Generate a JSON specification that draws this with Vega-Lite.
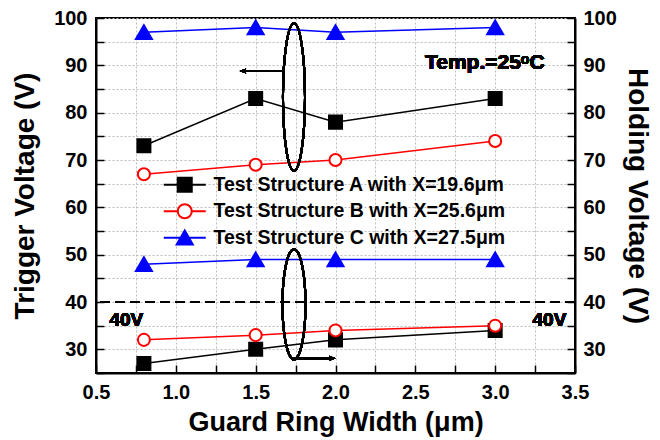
{
  "$schema": "https://vega.github.io/schema/vega-lite/v6.json",
  "width": 479,
  "height": 355,
  "autosize": {"type": "none"},
  "padding": {"left": 96, "top": 18, "right": 85, "bottom": 67},
  "background": "white",
  "config": {
    "view": {"stroke": "black", "strokeWidth": 2},
    "font": "Liberation Sans",
    "axis": {
      "labelFont": "Liberation Sans", "labelFontWeight": "bold", "labelFontSize": 20, "labelColor": "black",
      "titleFont": "Liberation Sans", "titleFontWeight": "bold", "titleFontSize": 28, "titleColor": "black",
      "domainColor": "black", "domainWidth": 2, "tickColor": "black", "tickWidth": 1.5, "tickSize": -8,
      "gridColor": "#bdbdbd", "gridDash": [2, 2], "gridWidth": 1
    }
  },
  "datasets": {
    "pts": [
      {"w": 0.8, "v": 73, "s": "Test Structure A with X=19.6μm", "g": "T"},
      {"w": 1.5, "v": 83, "s": "Test Structure A with X=19.6μm", "g": "T"},
      {"w": 2.0, "v": 78, "s": "Test Structure A with X=19.6μm", "g": "T"},
      {"w": 3.0, "v": 83, "s": "Test Structure A with X=19.6μm", "g": "T"},
      {"w": 0.8, "v": 67, "s": "Test Structure B with X=25.6μm", "g": "T"},
      {"w": 1.5, "v": 69, "s": "Test Structure B with X=25.6μm", "g": "T"},
      {"w": 2.0, "v": 70, "s": "Test Structure B with X=25.6μm", "g": "T"},
      {"w": 3.0, "v": 74, "s": "Test Structure B with X=25.6μm", "g": "T"},
      {"w": 0.8, "v": 97, "s": "Test Structure C with X=27.5μm", "g": "T"},
      {"w": 1.5, "v": 98, "s": "Test Structure C with X=27.5μm", "g": "T"},
      {"w": 2.0, "v": 97, "s": "Test Structure C with X=27.5μm", "g": "T"},
      {"w": 3.0, "v": 98, "s": "Test Structure C with X=27.5μm", "g": "T"},
      {"w": 0.8, "v": 27, "s": "Test Structure A with X=19.6μm", "g": "H"},
      {"w": 1.5, "v": 30, "s": "Test Structure A with X=19.6μm", "g": "H"},
      {"w": 2.0, "v": 32, "s": "Test Structure A with X=19.6μm", "g": "H"},
      {"w": 3.0, "v": 34, "s": "Test Structure A with X=19.6μm", "g": "H"},
      {"w": 0.8, "v": 32, "s": "Test Structure B with X=25.6μm", "g": "H"},
      {"w": 1.5, "v": 33, "s": "Test Structure B with X=25.6μm", "g": "H"},
      {"w": 2.0, "v": 34, "s": "Test Structure B with X=25.6μm", "g": "H"},
      {"w": 3.0, "v": 35, "s": "Test Structure B with X=25.6μm", "g": "H"},
      {"w": 0.8, "v": 48, "s": "Test Structure C with X=27.5μm", "g": "H"},
      {"w": 1.5, "v": 49, "s": "Test Structure C with X=27.5μm", "g": "H"},
      {"w": 2.0, "v": 49, "s": "Test Structure C with X=27.5μm", "g": "H"},
      {"w": 3.0, "v": 49, "s": "Test Structure C with X=27.5μm", "g": "H"}
    ]
  },
  "data": {"name": "pts"},
  "resolve": {
    "axis": {"x": "independent", "y": "independent"},
    "scale": {"stroke": "independent", "fill": "independent", "shape": "independent"}
  },
  "layer": [
    {
      "mark": {"type": "line", "strokeWidth": 1.5},
      "encoding": {
        "x": {"field": "w", "type": "quantitative",
          "scale": {"domain": [0.5, 3.5], "nice": false, "zero": false},
          "axis": {"orient": "bottom", "title": "Guard Ring Width (μm)", "titleFontSize": 27, "values": [0.5, 0.75, 1, 1.25, 1.5, 1.75, 2, 2.25, 2.5, 2.75, 3, 3.25, 3.5],
            "format": ".1f", "labelExpr": "(datum.value * 2) % 1 == 0 ? datum.label : ''", "labelPadding": 17, "titlePadding": 7, "grid": true, "labelFlush": false, "labelOverlap": false}},
        "y": {"field": "v", "type": "quantitative",
          "scale": {"domain": [25, 100], "nice": false, "zero": false},
          "axis": {"orient": "left", "title": "Trigger Voltage (V)", "values": [25, 30, 35, 40, 45, 50, 55, 60, 65, 70, 75, 80, 85, 90, 95, 100],
            "format": "d", "labelExpr": "datum.value % 10 == 0 ? datum.label : ''", "labelPadding": 17, "titlePadding": 14, "grid": true, "labelFlush": false, "labelOverlap": false}},
        "stroke": {"field": "s", "type": "nominal",
          "scale": {"domain": ["Test Structure A with X=19.6μm", "Test Structure B with X=25.6μm", "Test Structure C with X=27.5μm"], "range": ["black", "red", "blue"]},
          "legend": null},
        "detail": {"field": "g"}
      }
    },
    {
      "mark": {"type": "point", "strokeWidth": 2, "opacity": 1, "size": 196},
      "encoding": {
        "x": {"field": "w", "type": "quantitative", "axis": null},
        "y": {"field": "v", "type": "quantitative", "axis": null},
        "stroke": {"field": "s", "type": "nominal",
          "scale": {"domain": ["Test Structure A with X=19.6μm", "Test Structure B with X=25.6μm", "Test Structure C with X=27.5μm"], "range": ["black", "red", "blue"]},
          "legend": null},
        "fill": {"field": "s", "type": "nominal",
          "scale": {"domain": ["Test Structure A with X=19.6μm", "Test Structure B with X=25.6μm", "Test Structure C with X=27.5μm"], "range": ["black", "white", "blue"]},
          "legend": null},
        "shape": {"field": "s", "type": "nominal",
          "scale": {"domain": ["Test Structure A with X=19.6μm", "Test Structure B with X=25.6μm", "Test Structure C with X=27.5μm"],
            "range": ["M-0.93,-0.93H0.93V0.93H-0.93Z", "M-0.86,0A0.86,0.86 0 1,1 0.86,0A0.86,0.86 0 1,1 -0.86,0Z", "M0,-1.0L1.14,0.97H-1.14Z"]},
          "legend": null}
      }
    },
    {
      "transform": [{"filter": "false"}],
      "mark": {"type": "point", "strokeWidth": 2, "opacity": 1, "size": 196},
      "encoding": {
        "x": {"field": "w", "type": "quantitative", "axis": null},
        "y": {"field": "v", "type": "quantitative", "axis": null},
        "stroke": {"field": "s", "type": "nominal",
          "scale": {"domain": ["Test Structure A with X=19.6μm", "Test Structure B with X=25.6μm", "Test Structure C with X=27.5μm"], "range": ["black", "red", "blue"]}},
        "fill": {"field": "s", "type": "nominal",
          "scale": {"domain": ["Test Structure A with X=19.6μm", "Test Structure B with X=25.6μm", "Test Structure C with X=27.5μm"], "range": ["black", "white", "blue"]}},
        "shape": {"field": "s", "type": "nominal",
          "scale": {"domain": ["Test Structure A with X=19.6μm", "Test Structure B with X=25.6μm", "Test Structure C with X=27.5μm"],
            "range": ["M-3,0H3M-1,-1H1V1H-1Z", "M-3,0H-1M1,0H3M-1,0A1,1 0 1,1 1,0A1,1 0 1,1 -1,0Z", "M-3,0H3M0,-1.05L1.15,0.95H-1.15Z"]},
          "legend": {
            "orient": "none", "legendX": 79, "legendY": 157, "title": null, "padding": 0,
            "labelFont": "Liberation Sans", "labelFontWeight": "bold", "labelFontSize": 19.5, "labelColor": "black", "labelLimit": 500,
            "symbolSize": 196, "symbolStrokeWidth": 2, "labelOffset": 19, "rowPadding": 3.5
          }}
      }
    },
    {
      "mark": {"type": "rule", "strokeDash": [10, 5], "strokeWidth": 2, "color": "black"},
      "encoding": {
        "y": {"datum": 40, "type": "quantitative",
          "axis": {"orient": "right", "title": "Holding Voltage (V)", "values": [25, 30, 35, 40, 45, 50, 55, 60, 65, 70, 75, 80, 85, 90, 95, 100],
            "format": "d", "labelExpr": "datum.value % 10 == 0 ? datum.label : ''", "labelPadding": 16, "titlePadding": 6, "grid": false, "labelFlush": false, "labelOverlap": false}}
      }
    },
    {
      "mark": {"type": "text", "text": "40V", "font": "Liberation Sans", "fontWeight": "bold", "fontSize": 19, "color": "black"},
      "encoding": {
        "x": {"datum": 0.69, "type": "quantitative", "axis": null},
        "y": {"datum": 36.1, "type": "quantitative", "axis": null}
      }
    },
    {
      "mark": {"type": "text", "text": "40V", "font": "Liberation Sans", "fontWeight": "bold", "fontSize": 19, "color": "black"},
      "encoding": {
        "x": {"datum": 3.34, "type": "quantitative", "axis": null},
        "y": {"datum": 36.1, "type": "quantitative", "axis": null}
      }
    },
    {
      "mark": {"type": "text", "text": "Temp.=25ᵒC", "font": "Liberation Sans", "fontWeight": "bold", "fontSize": 21, "color": "black"},
      "encoding": {
        "x": {"datum": 2.935, "type": "quantitative", "axis": null},
        "y": {"datum": 90.4, "type": "quantitative", "axis": null}
      }
    },
    {
      "mark": {"type": "point", "shape": "M0,-1A0.15,1 0 1,1 0,1A0.15,1 0 1,1 0,-1Z", "size": 21609, "filled": false, "stroke": "black", "strokeWidth": 2, "opacity": 1},
      "encoding": {
        "x": {"datum": 1.74, "type": "quantitative", "axis": null},
        "y": {"datum": 83.3, "type": "quantitative", "axis": null}
      }
    },
    {
      "mark": {"type": "point", "shape": "M0,-1A0.21,1 0 1,1 0,1A0.21,1 0 1,1 0,-1Z", "size": 12100, "filled": false, "stroke": "black", "strokeWidth": 2, "opacity": 1},
      "encoding": {
        "x": {"datum": 1.74, "type": "quantitative", "axis": null},
        "y": {"datum": 39.5, "type": "quantitative", "axis": null}
      }
    },
    {
      "mark": {"type": "rule", "strokeWidth": 2, "color": "black"},
      "encoding": {
        "x": {"datum": 1.42, "type": "quantitative", "axis": null},
        "x2": {"datum": 1.675},
        "y": {"datum": 88.8, "type": "quantitative", "axis": null}
      }
    },
    {
      "mark": {"type": "point", "shape": "M0,0L2,-0.8L1.5,0L2,0.8Z", "size": 42, "filled": true, "color": "black", "opacity": 1},
      "encoding": {
        "x": {"datum": 1.40, "type": "quantitative", "axis": null},
        "y": {"datum": 88.8, "type": "quantitative", "axis": null}
      }
    },
    {
      "mark": {"type": "rule", "strokeWidth": 2, "color": "black"},
      "encoding": {
        "x": {"datum": 1.74, "type": "quantitative", "axis": null},
        "x2": {"datum": 1.98},
        "y": {"datum": 28.1, "type": "quantitative", "axis": null}
      }
    },
    {
      "mark": {"type": "point", "shape": "M0,0L-2,-0.8L-1.5,0L-2,0.8Z", "size": 42, "filled": true, "color": "black", "opacity": 1},
      "encoding": {
        "x": {"datum": 2.0, "type": "quantitative", "axis": null},
        "y": {"datum": 28.1, "type": "quantitative", "axis": null}
      }
    }
  ]
}
